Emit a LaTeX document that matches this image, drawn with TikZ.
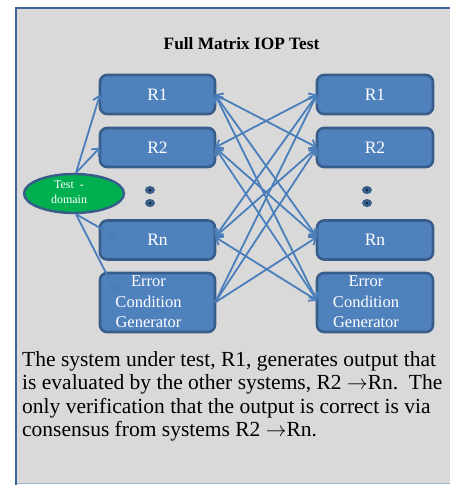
\documentclass[tikz,border=0pt]{standalone}
\usepackage{fontspec}
\setmainfont{Liberation Serif}
\usetikzlibrary{arrows.meta,shapes.geometric}

\definecolor{panel}{HTML}{D9D9D9}
\definecolor{frameblue}{HTML}{3E6597}
\definecolor{framelow}{HTML}{9DB3CE}
\definecolor{boxfill}{HTML}{4F81BD}
\definecolor{boxline}{HTML}{385D8A}
\definecolor{linkblue}{HTML}{4A7EBB}
\definecolor{domaingreen}{HTML}{00B050}

\tikzset{
  barb/.tip={Straight Barb[length=6pt,width=10pt]},
  sysbox/.style={draw=boxline,fill=boxfill,line width=2.6pt,rounded corners=7pt,
    minimum width=115pt,minimum height=39pt,inner sep=0pt,outer sep=0pt,
    text=white,font=\fontsize{17.5}{20.5}\selectfont,align=center},
  boxtext/.style={inner sep=0pt,text=white,font=\fontsize{16.5}{20.6}\selectfont,align=center},
  link/.style={draw=linkblue,line width=1.8pt,-barb},
  twoway/.style={draw=linkblue,line width=1.8pt,barb-barb},
  vdot/.style={ellipse,fill=boxline,minimum width=10pt,minimum height=8pt,inner sep=0pt},
}

\begin{document}
\begin{tikzpicture}[x=1pt,y=-1pt]
\useasboundingbox (0,0) rectangle (450,485);

% panel with its frame
\fill[panel] (16,8) rectangle (452,483);
\draw[framelow,line width=1pt] (16,483.5) -- (452,483.5);
\draw[frameblue,line width=2.4pt] (16,485) -- (16,8) -- (452,8);

% title
\node[anchor=base,inner sep=0pt,font=\bfseries\fontsize{17.3}{20}\selectfont] (title) at (241.5,49) {Full Matrix IOP Test};

% left column
\node[sysbox] (L1) at (157.5,94.5) {R1};
\node[sysbox] (L2) at (157.5,147.5) {R2};
\node[sysbox] (Ln) at (157.5,240) {Rn};
\node[sysbox,minimum height=59pt] (Le) at (157.5,302.5) {};
\node[boxtext] (LeT) at (148.5,302) {Error\\Condition\\Generator};

% right column
\node[sysbox,minimum width=116pt] (R1) at (375,94.5) {R1};
\node[sysbox,minimum width=116pt] (R2) at (375,147.5) {R2};
\node[sysbox,minimum width=116pt] (Rn) at (375,240) {Rn};
\node[sysbox,minimum width=116pt,minimum height=59pt] (Re) at (375,302.5) {};
\node[boxtext] (ReT) at (366,302) {Error\\Condition\\Generator};

% ellipsis dots
\node[vdot] (dL1) at (150,190) {};
\node[vdot] (dL2) at (150,203) {};
\node[vdot] (dR1) at (367,190) {};
\node[vdot] (dR2) at (367,203) {};
\foreach \d in {dL1,dL2,dR1,dR2} \fill[black] (\d) circle (1pt);

% test domain
\node[ellipse,draw=boxline,fill=domaingreen,line width=2.4pt,minimum width=100pt,
      minimum height=39pt,inner sep=0pt] (td) at (74,193.5) {};
\node[inner sep=0pt,text=white,font=\fontsize{12}{15}\selectfont,align=center] (tdT) at (69,192.5) {Test\enspace-\\domain};

\coordinate (tdTop) at ([xshift=2pt]td.north);
\coordinate (tdBot) at ([xshift=2pt]td.south);
\draw[link] (tdTop) -- (L1.west);
\draw[link] (tdTop) -- (L2.west);
\draw[link] (tdBot) -- ([xshift=16pt,yshift=3pt]Ln.west);
\draw[link] (tdBot) -- ([xshift=16pt,yshift=10pt]Le.west);

% full matrix of exchanges
\coordinate (Lnx) at ([yshift=3pt]Ln.east);
\coordinate (Rnx) at ([yshift=3pt]Rn.west);
\coordinate (Rex) at ([yshift=2pt]Re.west);
\draw[twoway] (L1.east) -- (R2.west);
\draw[twoway] (L1.east) -- (Rnx);
\draw[twoway] (L1.east) -- (Rex);
\draw[twoway] (L2.east) -- (R1.west);
\draw[twoway] (L2.east) -- (Rnx);
\draw[twoway] (L2.east) -- (Rex);
\draw[twoway] (Lnx) -- (R1.west);
\draw[twoway] (Lnx) -- (R2.west);
\draw[twoway] (Lnx) -- (Rex);
\draw[link] (Le.east) -- (R1.west);
\draw[link] (Le.east) -- (R2.west);
\draw[link] (Le.east) -- (Rnx);

% caption
\node[anchor=north west,inner sep=0pt,align=left,font=\fontsize{21.5}{23.6}\selectfont] (caption) at (22,351)
{The system under test, R1, generates output that\\
is evaluated by the other systems, R2 $\rightarrow$Rn.\ \ The\\
only verification that the output is correct is via\\
consensus from systems R2 $\rightarrow$Rn.};
\end{tikzpicture}
\end{document}
